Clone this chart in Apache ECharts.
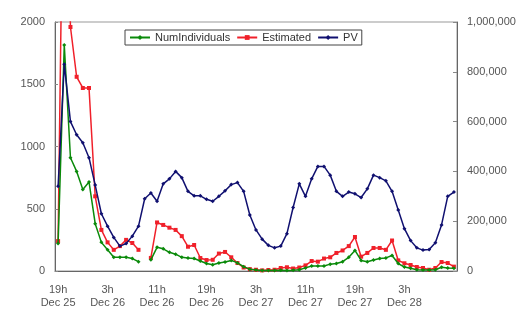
<!DOCTYPE html>
<html>
<head>
<meta charset="utf-8">
<script src="https://cdn.jsdelivr.net/npm/echarts@6/dist/echarts.min.js"></script>
<style>
html, body { margin: 0; padding: 0; background: #fff; }
#myChart { width: 525px; height: 312px; }
</style>
</head>
<body>
<div id="myChart"></div>
<script>
var hourLabels = [
	"19h\nDec 25", "20h\nDec 25", "21h\nDec 25", "22h\nDec 25", "23h\nDec 25",
	"0h\nDec 26", "1h\nDec 26", "2h\nDec 26", "3h\nDec 26", "4h\nDec 26", "5h\nDec 26", "6h\nDec 26",
	"7h\nDec 26", "8h\nDec 26", "9h\nDec 26", "10h\nDec 26", "11h\nDec 26", "12h\nDec 26", "13h\nDec 26",
	"14h\nDec 26", "15h\nDec 26", "16h\nDec 26", "17h\nDec 26", "18h\nDec 26", "19h\nDec 26", "20h\nDec 26",
	"21h\nDec 26", "22h\nDec 26", "23h\nDec 26",
	"0h\nDec 27", "1h\nDec 27", "2h\nDec 27", "3h\nDec 27", "4h\nDec 27", "5h\nDec 27", "6h\nDec 27",
	"7h\nDec 27", "8h\nDec 27", "9h\nDec 27", "10h\nDec 27", "11h\nDec 27", "12h\nDec 27", "13h\nDec 27",
	"14h\nDec 27", "15h\nDec 27", "16h\nDec 27", "17h\nDec 27", "18h\nDec 27", "19h\nDec 27", "20h\nDec 27",
	"21h\nDec 27", "22h\nDec 27", "23h\nDec 27",
	"0h\nDec 28", "1h\nDec 28", "2h\nDec 28", "3h\nDec 28", "4h\nDec 28", "5h\nDec 28", "6h\nDec 28",
	"7h\nDec 28", "8h\nDec 28", "9h\nDec 28", "10h\nDec 28", "11h\nDec 28"
];

var numIndividuals = [
	220, 1815, 910, 800, 655, 715, 380, 230, 170, 110, 110, 110, 100, 75, null, 90,
	190, 178, 150, 135, 110, 104, 100, 80, 60, 50, 64, 72, 85, 65, 35, 15,
	8, 5, 4, 5, 6, 5, 6, 10, 25, 40, 40, 40, 55, 60, 75, 110,
	165, 85, 75, 88, 100, 105, 125, 60, 32, 22, 10, 8, 8, 10, 30, 25, 22
];

var estimated = [
	240, 4000, 1960, 1560, 1470, 1470, 600, 330, 230, 170, 200, 250, 225, 170, null, 105,
	390, 370, 348, 330, 280, 195, 209, 104, 88, 90, 140, 153, 110, 64, 28, 15,
	10, 5, 8, 10, 24, 30, 20, 28, 45, 80, 75, 100, 110, 145, 165, 200,
	273, 115, 145, 185, 185, 170, 245, 85, 62, 48, 32, 24, 10, 24, 72, 64, 35
];

var pageViews = [
	340000, 830000, 600000, 547000, 515000, 455000, 345000, 230000, 180000, 135000, 100000, 110000, 140000, 180000, 290000, 313000,
	280000, 350000, 370000, 400000, 375000, 320000, 302000, 302000, 288000, 280000, 300000, 322000, 347000, 355000, 320000, 225000,
	165000, 128000, 103000, 93000, 100000, 150000, 255000, 350000, 300000, 370000, 420000, 420000, 385000, 320000, 300000, 317000,
	310000, 295000, 330000, 385000, 375000, 362000, 320000, 245000, 170000, 122000, 93000, 84000, 86000, 113000, 185000, 300000, 317000
];

var leftTicks = { min: 0, max: 2000, interval: 500 };
var rightTicks = { min: 0, max: 1000000, interval: 200000 };

var fontName = "Liberation Sans";
var textColor = "#555";

var myChart = echarts.init(document.getElementById('myChart'));

var option = {
	animation : false,
	textStyle : { fontFamily : fontName },
	grid : {
		left : 55,
		right : 68,
		top : 22,
		bottom : 41,
		show : true,
		borderColor : '#999',
		borderWidth : 1
	},
	legend : {
		left : 125,
		top : 30,
		padding : [ 2, 4, 2, 4 ],
		itemGap : 6,
		itemWidth : 20,
		itemHeight : 6,
		borderColor : '#444',
		borderWidth : 1,
		textStyle : { fontSize : 11, color : '#333', fontFamily : fontName },
		data : [ 'NumIndividuals', 'Estimated', 'PV' ]
	},
	xAxis : {
		type : 'category',
		data : hourLabels,
		boundaryGap : true,
		axisLine : { lineStyle : { color : '#666' } },
		axisTick : {
			inside : true,
			length : 3,
			interval : 0,
			lineStyle : { color : '#888' }
		},
		axisLabel : {
			interval : function(index) {
				return index % 8 === 0 && index < 64;
			},
			color : textColor,
			fontSize : 11,
			lineHeight : 13,
			margin : 12
		}
	},
	yAxis : [ {
		type : 'value',
		min : leftTicks.min,
		max : leftTicks.max,
		interval : leftTicks.interval,
		splitLine : { show : false },
		axisLine : { show : true, lineStyle : { color : '#666' } },
		axisTick : { show : true, inside : true, length : 3, lineStyle : { color : '#888' } },
		axisLabel : {
			color : textColor,
			fontSize : 11,
			margin : 10,
			formatter : function(v) {
				return String(v);
			}
		}
	}, {
		type : 'value',
		min : rightTicks.min,
		max : rightTicks.max,
		interval : rightTicks.interval,
		splitLine : { show : false },
		axisLine : { show : true, lineStyle : { color : '#666' } },
		axisTick : { show : true, inside : true, length : 4, lineStyle : { color : '#888' } },
		axisLabel : {
			color : textColor,
			fontSize : 11,
			margin : 10,
			formatter : function(v) {
				return v.toLocaleString('en-US');
			}
		}
	} ],
	series : [ {
		name : 'NumIndividuals',
		type : 'line',
		yAxisIndex : 0,
		data : numIndividuals,
		clip : true,
		symbol : 'diamond',
		symbolSize : 4,
		color : '#0a8a0a',
		lineStyle : { width : 1.5 },
		z : 3
	}, {
		name : 'Estimated',
		type : 'line',
		yAxisIndex : 0,
		data : estimated,
		clip : true,
		symbol : 'rect',
		symbolSize : 4,
		color : '#f0202a',
		lineStyle : { width : 1.5 },
		z : 2
	}, {
		name : 'PV',
		type : 'line',
		yAxisIndex : 1,
		data : pageViews,
		clip : true,
		symbol : 'diamond',
		symbolSize : 4,
		color : '#101070',
		lineStyle : { width : 1.5 },
		z : 4
	} ]
};

myChart.setOption(option);
</script>
</body>
</html>
